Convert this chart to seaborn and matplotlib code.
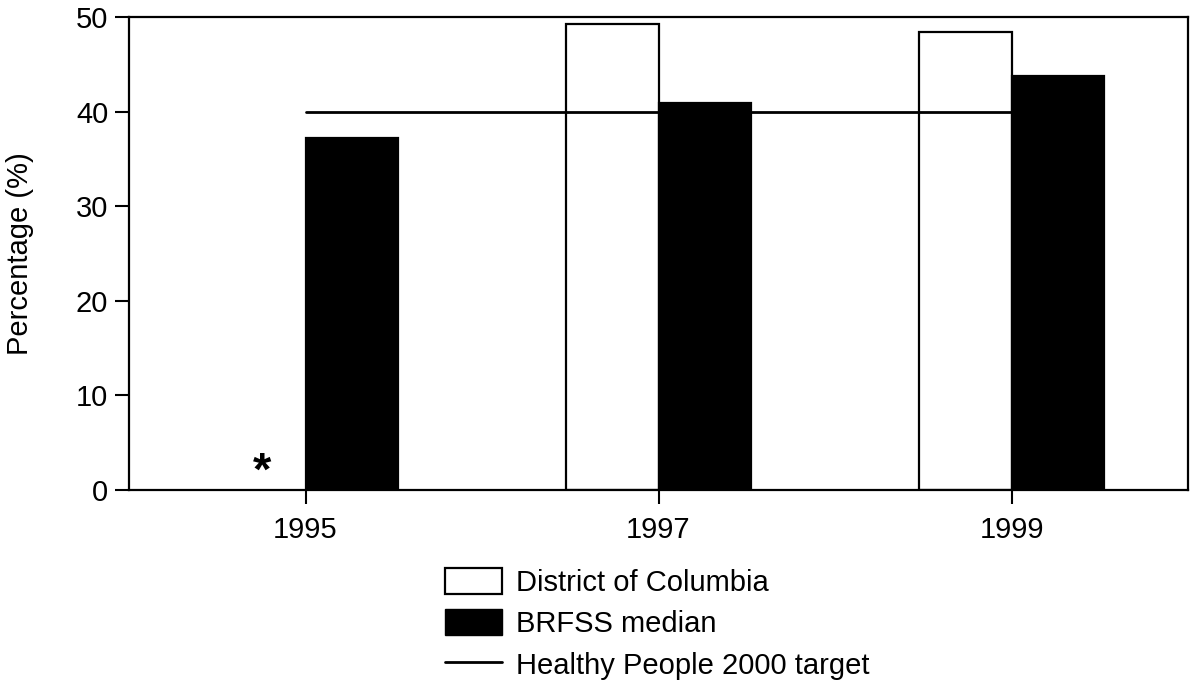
import numpy as np
import pandas as pd
import matplotlib
matplotlib.use('Agg')
import matplotlib.pyplot as plt
from matplotlib.patches import Patch
from matplotlib.lines import Line2D
import seaborn as sns

# ── Data ──────────────────────────────────────────────────────────────────────
years      = ["1995", "1997", "1999"]
dc_values  = [np.nan, 49.3, 48.4]     # 1995 DC not available (*)
brfss_vals = [37.2, 40.9, 43.8]
target     = [40, 40, 40]             # Healthy People 2000 target
series     = ["District of Columbia", "BRFSS median"]
yticks     = [0, 10, 20, 30, 40, 50]

df = pd.DataFrame({
    "year":  years * 2,
    "group": [series[0]] * 3 + [series[1]] * 3,
    "value": dc_values + brfss_vals,
})

sns.set_style("ticks")
plt.rcParams['font.family'] = ['Liberation Sans', 'DejaVu Sans']
plt.rcParams['text.color'] = 'black'
plt.rcParams['axes.labelcolor'] = 'black'
plt.rcParams['xtick.color'] = 'black'
plt.rcParams['ytick.color'] = 'black'
plt.rcParams['axes.edgecolor'] = 'black'
FS = 21

fig = plt.figure(figsize=(11.9, 6.82), dpi=100)
ax = fig.add_axes([129/1190, 1 - 490/682, (1188-129)/1190, (490-17)/682])

sns.barplot(data=df, x="year", y="value", hue="group", hue_order=series,
            palette=["white", "black"], edgecolor="black", linewidth=1.6,
            width=0.524, ax=ax, legend=False, errorbar=None)

ax.plot(range(len(years)), target, color="black", linewidth=2.0, zorder=3)

# missing value marker for 1995 DC
ax.text(-0.124, 1.8, "*", ha="center", va="center", fontsize=34,
        fontweight="bold")

ax.set_xlim(-0.5, 2.5)
ax.set_ylim(0, 50)
ax.set_yticks(yticks)
ax.tick_params(axis="both", direction="out", length=10, width=1.5,
               labelsize=FS, pad=5)
ax.tick_params(axis="x", pad=9)
ax.set_xlabel("")
ax.set_ylabel("Percentage (%)", fontsize=FS, labelpad=30)
for s in ax.spines.values():
    s.set_linewidth(1.6)
    s.set_visible(True)

handles = [
    Patch(facecolor="white", edgecolor="black", linewidth=1.6, label=series[0]),
    Patch(facecolor="black", edgecolor="black", label=series[1]),
    Line2D([], [], color="black", linewidth=2.0, label="Healthy People 2000 target"),
]
fig.legend(handles=handles, loc="upper left", bbox_to_anchor=(445/1190, 1 - 568/682),
           frameon=False, fontsize=FS, handlelength=1.95, handleheight=1.0,
           handletextpad=0.5, labelspacing=0.42, borderpad=0, borderaxespad=0)

fig.savefig("out.png", dpi=100)
